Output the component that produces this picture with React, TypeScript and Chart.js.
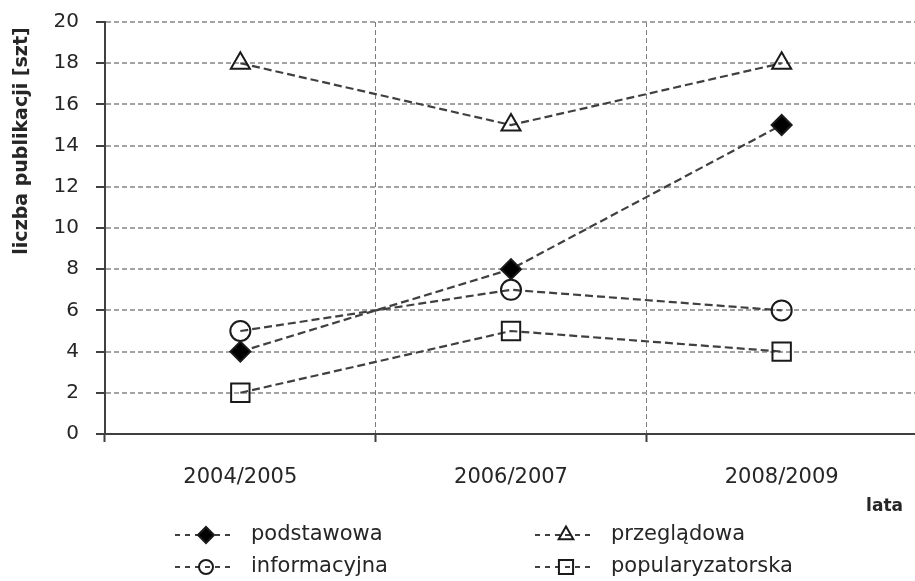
import React, { useEffect, useRef } from 'react';
import { Chart, registerables } from 'chart.js';
import { drawPoint } from 'chart.js/helpers';

Chart.register(...registerables);

const categories = ['2004/2005', '2006/2007', '2008/2009'];
const podstawowa = [4, 8, 15];
const przegladowa = [18, 15, 18];
const informacyjna = [5, 7, 6];
const popularyzatorska = [2, 5, 4];
const seriesNames = ['podstawowa', 'przeglądowa', 'informacyjna', 'popularyzatorska'];
const yTicks = [0, 2, 4, 6, 8, 10, 12, 14, 16, 18, 20];
const yTitle = 'liczba publikacji [szt]';
const xTitle = 'lata';

const TEXT = '#262626';
const LINE = '#404040';
const FONT = '"DejaVu Sans", sans-serif';

const overlayPlugin = {
  id: 'overlayText',
  afterDraw(chart: any) {
    const ctx = chart.ctx;
    // y title
    ctx.save();
    ctx.fillStyle = TEXT;
    ctx.font = 'bold 19px ' + FONT;
    ctx.translate(22, 141);
    ctx.rotate(-Math.PI / 2);
    ctx.textAlign = 'center';
    ctx.textBaseline = 'middle';
    ctx.fillText(yTitle, 0, 0);
    ctx.restore();
    // x title
    ctx.save();
    ctx.fillStyle = TEXT;
    ctx.font = 'bold 17px ' + FONT;
    ctx.textAlign = 'right';
    ctx.textBaseline = 'middle';
    ctx.fillText(xTitle, 903, 507);
    ctx.restore();
    // legend
    chart.data.datasets.forEach((ds: any, i: number) => {
      const col = i % 2;
      const row = Math.floor(i / 2);
      const x0 = col === 0 ? 175 : 535;
      const y = row === 0 ? 535 : 567;
      ctx.save();
      ctx.strokeStyle = ds.borderColor;
      ctx.lineWidth = 2;
      ctx.setLineDash([5, 5]);
      ctx.beginPath();
      ctx.moveTo(x0, y);
      ctx.lineTo(x0 + 57, y);
      ctx.stroke();
      ctx.setLineDash([]);
      ctx.fillStyle = ds.pointBackgroundColor;
      ctx.strokeStyle = ds.pointBorderColor;
      ctx.lineWidth = 2;
      drawPoint(ctx, { pointStyle: ds.pointStyle, radius: ds.legendRadius, rotation: 0, borderWidth: 2 } as any, x0 + 31, y);
      ctx.fillStyle = TEXT;
      ctx.font = '21px ' + FONT;
      ctx.textAlign = 'left';
      ctx.textBaseline = 'middle';
      ctx.fillText(ds.label, x0 + 76, y);
      ctx.restore();
    });
  },
};

export default function App() {
  const ref = useRef<HTMLCanvasElement | null>(null);

  useEffect(() => {
    if (!ref.current) return;
    const common = {
      borderColor: LINE,
      borderWidth: 2.2,
      borderDash: [8, 4],
      pointBorderColor: '#1a1a1a',
      pointBorderWidth: 2,
      tension: 0,
      fill: false,
    };
    const chart = new Chart(ref.current, {
      type: 'line',
      data: {
        labels: categories,
        datasets: [
          { ...common, label: seriesNames[0], data: podstawowa, pointStyle: 'rectRot', pointRadius: 10, legendRadius: 8, pointBackgroundColor: '#000000' } as any,
          { ...common, label: seriesNames[1], data: przegladowa, pointStyle: 'triangle', pointRadius: 11, legendRadius: 8.5, pointBackgroundColor: 'rgba(0,0,0,0)' } as any,
          { ...common, label: seriesNames[2], data: informacyjna, pointStyle: 'circle', pointRadius: 10, legendRadius: 7, pointBackgroundColor: 'rgba(0,0,0,0)' } as any,
          { ...common, label: seriesNames[3], data: popularyzatorska, pointStyle: 'rect', pointRadius: 13, legendRadius: 10, pointBackgroundColor: 'rgba(0,0,0,0)' } as any,
        ],
      },
      options: {
        responsive: false,
        animation: false,
        devicePixelRatio: 1,
        layout: { autoPadding: false, padding: { top: 22, left: 0, right: 8, bottom: 0 } },
        plugins: { legend: { display: false }, tooltip: { enabled: false } },
        scales: {
          x: {
            type: 'category',
            offset: true,
            afterFit: (s: any) => { s.height = 147; s.paddingLeft = 0; s.paddingRight = 0; s.paddingTop = 0; s.paddingBottom = 0; },
            grid: {
              offset: true,
              color: '#7a7a7a',
              lineWidth: 1,
              tickLength: 8,
              tickColor: LINE,
              tickWidth: 2,
              tickBorderDash: [1, 0],
            },
            border: { color: LINE, width: 2, dash: [5, 3] },
            ticks: { color: TEXT, font: { family: FONT, size: 21 }, padding: 23, maxRotation: 0 },
          },
          y: {
            min: 0,
            max: 20,
            afterFit: (s: any) => { s.width = 105; s.paddingLeft = 0; s.paddingRight = 0; s.paddingTop = 0; s.paddingBottom = 0; },
            afterBuildTicks: (s: any) => { s.ticks = yTicks.map((v) => ({ value: v })); },
            grid: {
              color: '#a3a3a3',
              lineWidth: 2,
              tickLength: 9,
              tickColor: LINE,
              tickWidth: 2,
              tickBorderDash: [1, 0],
            },
            border: { color: LINE, width: 2, dash: [5, 3] },
            ticks: { color: TEXT, font: { family: FONT, size: 20 }, padding: 17 },
          },
        },
      },
      plugins: [overlayPlugin],
    } as any);
    return () => chart.destroy();
  }, []);

  return (
    <div style={{ position: 'fixed', left: 0, top: 0, width: 915, height: 581, overflow: 'hidden', background: '#ffffff' }}>
      <canvas ref={ref} width={925} height={581} style={{ display: 'block', width: 925, height: 581 }} />
    </div>
  );
}
